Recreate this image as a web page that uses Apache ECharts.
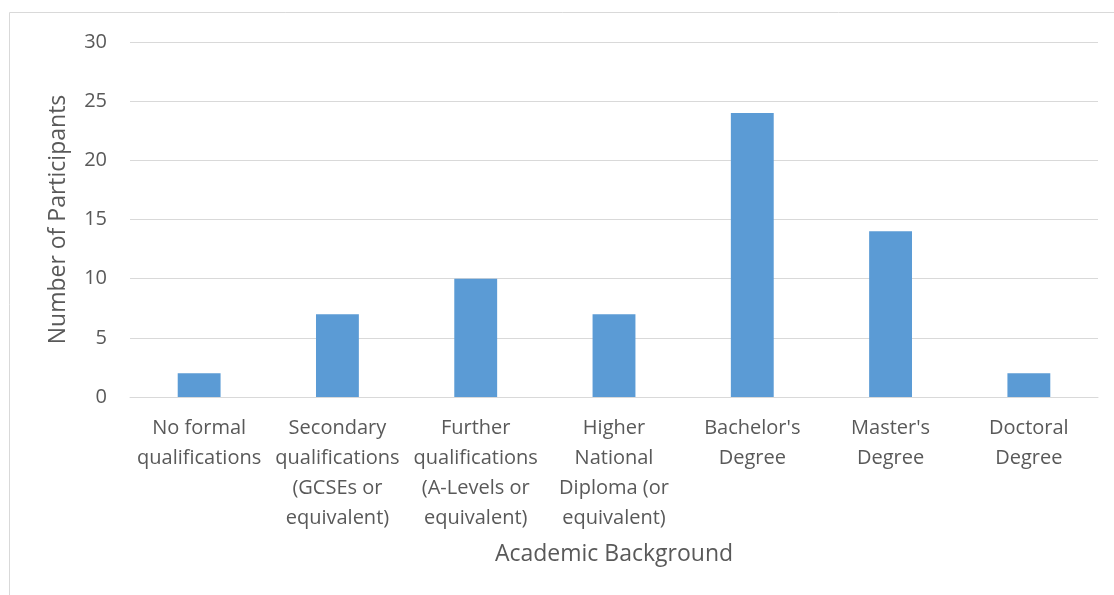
<!DOCTYPE html>
<html>
<head>
<meta charset="utf-8">
<script src="https://cdn.jsdelivr.net/npm/echarts@6/dist/echarts.min.js"></script>
<style>
  html, body { margin: 0; padding: 0; background: #fff; }
  #chart { width: 1114px; height: 595px; }
</style>
</head>
<body>
<div id="chart"></div>
<script>
// 类别（横轴标签）
var categories = [
  'No formal\nqualifications',
  'Secondary\nqualifications\n(GCSEs or\nequivalent)',
  'Further\nqualifications\n(A-Levels or\nequivalent)',
  'Higher\nNational\nDiploma (or\nequivalent)',
  "Bachelor's\nDegree",
  "Master's\nDegree",
  'Doctoral\nDegree'
];
// 每个类别的人数
var participants = [2, 7, 10, 7, 24, 14, 2];

var textColor = '#595959';
var lineColor = '#d9d9d9';
var fontFamily = '"Open Sans", "Noto Sans", sans-serif';

var myChart = echarts.init(document.getElementById('chart'));
var option = {
  animation: false,
  textStyle: { fontFamily: fontFamily, color: textColor },
  graphic: [{
    type: 'rect',
    shape: { x: 9.5, y: 12.5, width: 1200, height: 700 },
    style: { fill: 'none', stroke: lineColor, lineWidth: 1 }
  }],
  grid: { left: 130, right: 16, top: 42, bottom: 198 },
  xAxis: {
    type: 'category',
    data: categories,
    name: 'Academic Background',
    nameLocation: 'middle',
    nameGap: 146,
    nameTextStyle: { fontSize: 23, color: textColor, fontFamily: fontFamily },
    axisLine: { lineStyle: { color: lineColor, width: 1 } },
    axisTick: { show: false },
    axisLabel: {
      interval: 0,
      fontSize: 20,
      lineHeight: 30,
      margin: 16,
      color: textColor,
      fontFamily: fontFamily
    }
  },
  yAxis: {
    type: 'value',
    min: 0,
    max: 30,
    interval: 5,
    name: 'Number of Participants',
    nameLocation: 'middle',
    nameGap: 60,
    nameTextStyle: { fontSize: 23, color: textColor, fontFamily: fontFamily },
    axisLine: { show: false },
    axisTick: { show: false },
    axisLabel: { fontSize: 20, margin: 23, color: textColor, fontFamily: fontFamily },
    splitLine: { lineStyle: { color: lineColor, width: 1 } }
  },
  series: [{
    type: 'bar',
    data: participants,
    barWidth: '31%',
    itemStyle: { color: '#5b9bd5' }
  }]
};
myChart.setOption(option);
</script>
</body>
</html>
